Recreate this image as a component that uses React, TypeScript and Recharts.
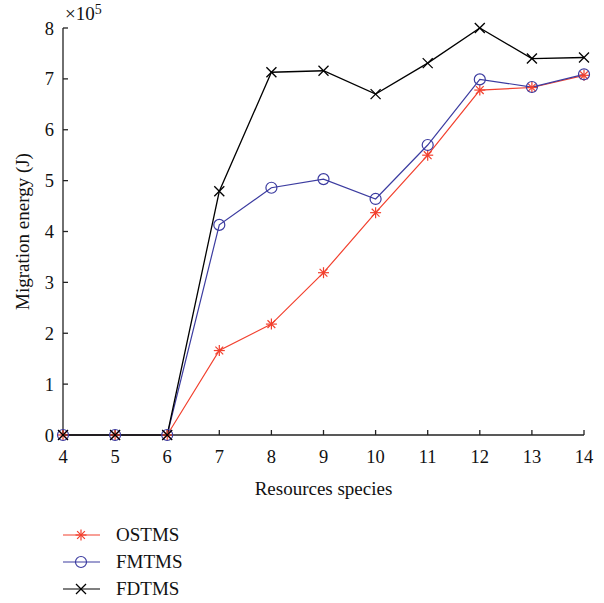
import React from 'react';
import { LineChart, Line, XAxis, YAxis, Legend } from 'recharts';

const species = [4, 5, 6, 7, 8, 9, 10, 11, 12, 13, 14];
const ostms = [0, 0, 0, 1.66, 2.18, 3.19, 4.37, 5.5, 6.78, 6.83, 7.07];
const fmtms = [0, 0, 0, 4.13, 4.86, 5.03, 4.64, 5.7, 6.99, 6.84, 7.09];
const fdtms = [0, 0, 0, 4.79, 7.13, 7.16, 6.7, 7.31, 8.0, 7.4, 7.42];
const xTicks = [4, 5, 6, 7, 8, 9, 10, 11, 12, 13, 14];
const yTicks = [0, 1, 2, 3, 4, 5, 6, 7, 8];

const RED = '#f2402e';
const BLUE = '#3c3ca0';
const BLACK = '#000000';
const FONT = '"Liberation Serif", "DejaVu Serif", serif';

const data = species.map((s, i) => ({ s, OSTMS: ostms[i], FMTMS: fmtms[i], FDTMS: fdtms[i] }));

const Star = (props: any) => {
  const { cx, cy } = props;
  if (cx == null || cy == null) return null;
  const r = 5.5;
  const d = r * 0.707;
  return (
    <g stroke={RED} strokeWidth={1.2}>
      <line x1={cx - r} y1={cy} x2={cx + r} y2={cy} />
      <line x1={cx} y1={cy - r} x2={cx} y2={cy + r} />
      <line x1={cx - d} y1={cy - d} x2={cx + d} y2={cy + d} />
      <line x1={cx - d} y1={cy + d} x2={cx + d} y2={cy - d} />
    </g>
  );
};

const Circ = (props: any) => {
  const { cx, cy } = props;
  if (cx == null || cy == null) return null;
  return <circle cx={cx} cy={cy} r={5.5} fill="none" stroke={BLUE} strokeWidth={1.2} />;
};

const Cross = (props: any) => {
  const { cx, cy } = props;
  if (cx == null || cy == null) return null;
  const r = 5;
  return (
    <g stroke={BLACK} strokeWidth={1.3}>
      <line x1={cx - r} y1={cy - r} x2={cx + r} y2={cy + r} />
      <line x1={cx - r} y1={cy + r} x2={cx + r} y2={cy - r} />
    </g>
  );
};

const legendItems = [
  { name: 'OSTMS', color: RED, Mark: Star },
  { name: 'FMTMS', color: BLUE, Mark: Circ },
  { name: 'FDTMS', color: BLACK, Mark: Cross },
];

const LegendContent = () => (
  <div style={{ paddingTop: 16, paddingLeft: 63, fontFamily: FONT, fontSize: 19 }}>
    {legendItems.map((it) => (
      <div key={it.name} style={{ display: 'flex', alignItems: 'center', height: 27 }}>
        <svg width={37} height={14} style={{ marginRight: 16 }}>
          <line x1={0} y1={7} x2={37} y2={7} stroke={it.color} strokeWidth={1.2} />
          <it.Mark cx={18} cy={7} />
        </svg>
        <span style={{ color: '#111' }}>{it.name}</span>
      </div>
    ))}
  </div>
);

const emptyTick = () => <g />;

export default function App() {
  return (
    <div style={{ position: 'absolute', left: 0, top: 0, width: 604, height: 603, background: '#fff' }}>
      <LineChart width={604} height={603} data={data} margin={{ top: 28, right: 20, left: 0, bottom: 0 }}>
        <XAxis
          dataKey="s"
          type="number"
          domain={[4, 14]}
          ticks={xTicks}
          xAxisId="b"
          height={70}
          tickSize={-5}
          tickMargin={20}
          stroke="#222"
          strokeWidth={1.3}
          tick={{ fill: '#111', fontSize: 18.5, fontFamily: FONT }}
          label={{ value: 'Resources species', position: 'insideBottom', offset: 10, fill: '#111', fontSize: 19, fontFamily: FONT }}
        />
        <XAxis
          dataKey="s"
          type="number"
          domain={[4, 14]}
          ticks={xTicks}
          xAxisId="t"
          orientation="top"
          height={0}
          tickSize={-5}
          stroke="#222"
          strokeWidth={1.3}
          tick={emptyTick}
        />
        <YAxis
          yAxisId="l"
          type="number"
          domain={[0, 8]}
          ticks={yTicks}
          width={63}
          tickSize={-5}
          tickMargin={14}
          stroke="#222"
          strokeWidth={1.3}
          tick={{ fill: '#111', fontSize: 18.5, fontFamily: FONT }}
          label={{ value: 'Migration energy (J)', angle: -90, position: 'insideLeft', offset: 22, style: { textAnchor: 'middle' }, fill: '#111', fontSize: 19, fontFamily: FONT }}
        />
        <YAxis
          yAxisId="r"
          orientation="right"
          type="number"
          domain={[0, 8]}
          ticks={yTicks}
          width={0}
          tickSize={-5}
          stroke="#222"
          strokeWidth={1.3}
          tick={emptyTick}
        />
        <Legend verticalAlign="bottom" align="left" wrapperStyle={{ height: 98 }} content={LegendContent} />
        <Line xAxisId="b" yAxisId="l" dataKey="OSTMS" stroke={RED} strokeWidth={1.2} dot={<Star />} isAnimationActive={false} />
        <Line xAxisId="b" yAxisId="l" dataKey="FMTMS" stroke={BLUE} strokeWidth={1.2} dot={<Circ />} isAnimationActive={false} />
        <Line xAxisId="b" yAxisId="l" dataKey="FDTMS" stroke={BLACK} strokeWidth={1.3} dot={<Cross />} isAnimationActive={false} />
      </LineChart>
      <div style={{ position: 'absolute', left: 65, top: 3, fontFamily: FONT, fontSize: 19, lineHeight: '22px', color: '#111' }}>
        ×10<span style={{ fontSize: 14, position: 'relative', top: -6 }}>5</span>
      </div>
    </div>
  );
}
